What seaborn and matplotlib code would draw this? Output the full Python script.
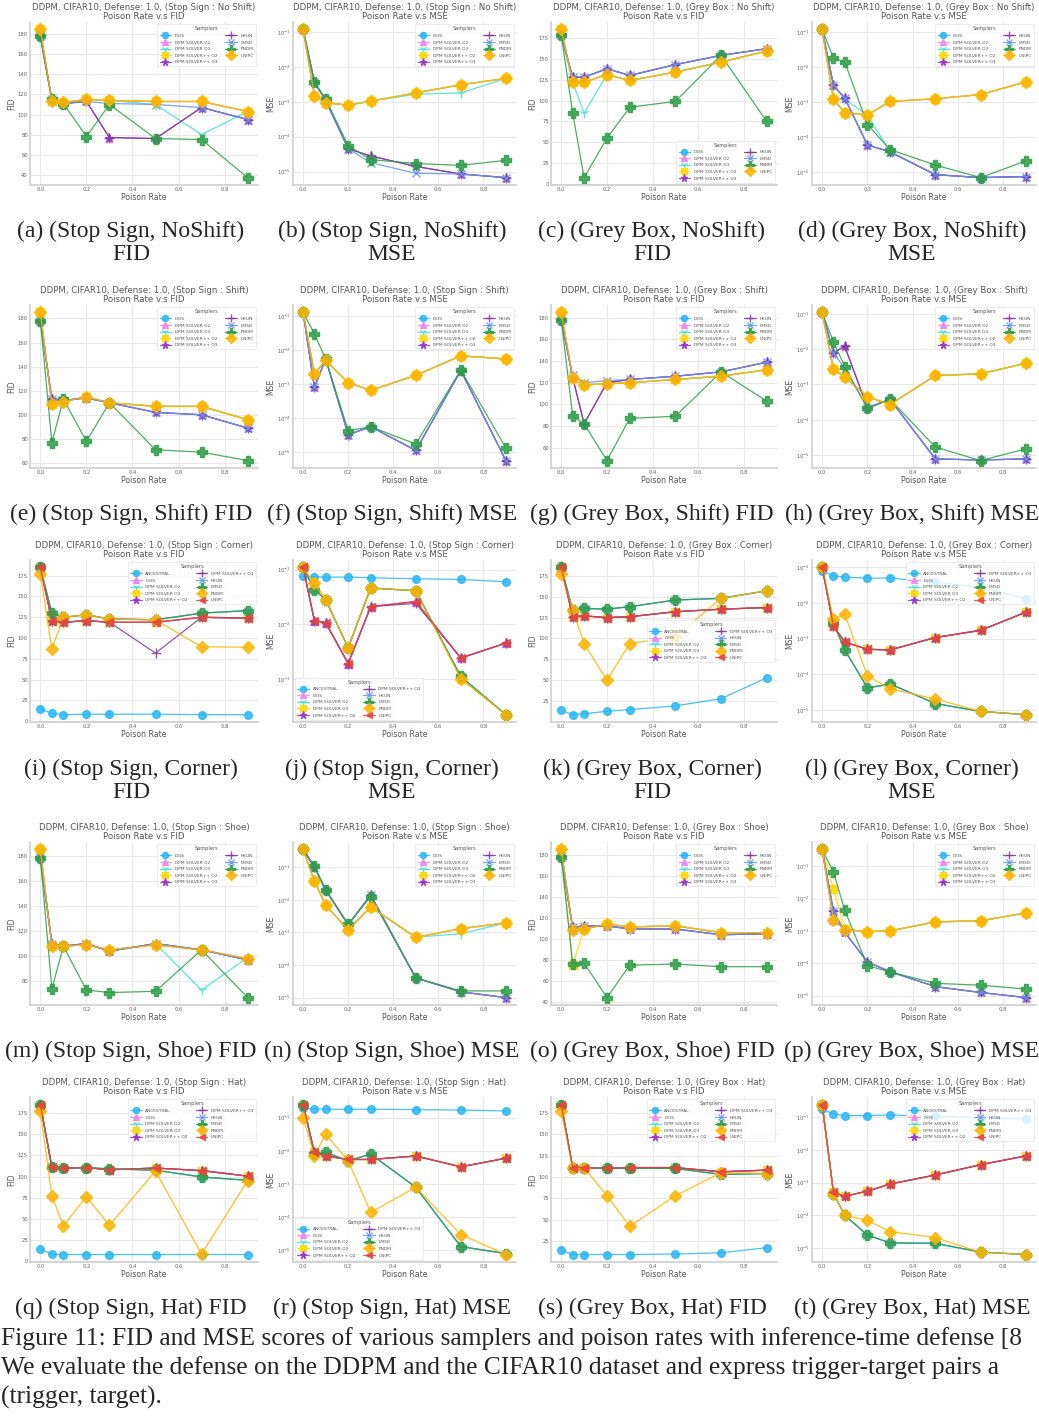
import numpy as np
import pandas as pd
import seaborn as sns
import matplotlib.pyplot as plt

RATES = [0.0, 0.05, 0.1, 0.2, 0.3, 0.5, 0.7, 0.9]
SAMPLERS_9 = ["DEIS", "DPM SOLVER O2", "DPM SOLVER O3", "DPM SOLVER++ O2", "DPM SOLVER++ O3",
              "HEUN", "LMSD", "PNDM", "UNIPC"]
SAMPLERS_10 = ["ANCESTRAL"] + SAMPLERS_9

# (a) Stop Sign / No Shift FID
a_orange = [185, 113, 112, 115, 114, 113, 113, 103]
a_teal = [178, 113, 112, 115, 114, 110, 80, 103]
a_blue = [178, 115, 111, 113, 111, 110, 107, 95]
a_purple = [178, 115, 111, 113, 77, 76, 107, 95]
a_green = [178, 115, 111, 78, 110, 76, 75, 37]
# (b) Stop Sign / No Shift MSE
b_orange = [0.12, 1.5e-3, 9.5e-4, 8e-4, 1.05e-3, 1.8e-3, 3.1e-3, 4.7e-3]
b_teal = [0.12, 1.5e-3, 9.5e-4, 8e-4, 1.05e-3, 1.65e-3, 1.8e-3, 4.7e-3]
b_blue = [0.12, 3.7e-3, 1.1e-3, 4.5e-5, 1.8e-5, 8.9e-6, 8.5e-6, 6.7e-6]
b_purple = [0.12, 3.7e-3, 1.1e-3, 4.5e-5, 2.8e-5, 1.4e-5, 8.5e-6, 6.7e-6]
b_green = [0.12, 3.7e-3, 1.2e-3, 5.5e-5, 2.2e-5, 1.7e-5, 1.5e-5, 2.1e-5]
# (c) Grey Box / No Shift FID
c_orange = [185, 122, 122, 131, 124, 134, 146, 159]
c_teal = [178, 122, 85, 131, 124, 134, 146, 159]
c_blue = [178, 128, 128, 138, 130, 143, 154, 162]
c_green = [178, 85, 8, 55, 92, 99, 154, 75]
# (d) Grey Box / No Shift MSE
d_orange = [0.12, 1.2e-3, 5e-4, 4.3e-4, 1.05e-3, 1.25e-3, 1.65e-3, 3.8e-3]
d_teal = [0.12, 1.2e-3, 1.2e-3, 4.3e-4, 3.8e-5, 8.5e-6, 7e-6, 7.5e-6]
d_blue = [0.12, 3e-3, 1.3e-3, 6e-5, 3.8e-5, 8.5e-6, 7e-6, 7.5e-6]
d_green = [0.12, 1.8e-2, 1.4e-2, 2.3e-4, 4.4e-5, 1.6e-5, 7e-6, 2.1e-5]
# (e) Stop Sign / Shift FID
e_orange = [185, 109, 111, 115, 110, 107, 107, 96]
e_blue = [178, 113, 112, 114, 110, 102, 100, 89]
e_green = [178, 77, 113, 78, 110, 71, 69, 62]
# (f) Stop Sign / Shift MSE
f_orange = [0.13, 2e-3, 5e-3, 1.1e-3, 6.5e-4, 1.8e-3, 6.8e-3, 5.5e-3]
f_blue = [0.13, 8e-4, 5.5e-3, 3.2e-5, 5.5e-5, 1.1e-5, 2.5e-3, 5.5e-6]
f_green = [0.13, 3e-2, 5.5e-3, 4.2e-5, 5.5e-5, 1.7e-5, 2.6e-3, 1.3e-5]
# (g) Grey Box / Shift FID
g_orange = [185, 124, 118, 119, 120, 123, 126, 132]
g_blue = [178, 127, 120, 122, 123, 126, 130, 139]
g_purple = [178, 125, 82, 120, 123, 126, 130, 139]
g_green = [178, 89, 82, 48, 87, 89, 130, 103]
# (h) Grey Box / Shift MSE
h_orange = [0.11, 2.7e-3, 1.6e-3, 4.5e-4, 2.7e-4, 1.8e-3, 2e-3, 4e-3]
h_blue = [0.11, 8e-3, 2.8e-3, 2.2e-4, 3.8e-4, 7.8e-6, 7.3e-6, 7.8e-6]
h_purple = [0.11, 8e-3, 1.2e-2, 2.2e-4, 3.8e-4, 7.8e-6, 7.3e-6, 7.8e-6]
h_green = [0.11, 1.6e-2, 3.2e-3, 2.1e-4, 3.8e-4, 1.7e-5, 7e-6, 1.5e-5]
# (i) Stop Sign / Corner FID
i_cyan = [14.5, 9.5, 8, 8.5, 8.5, 8.5, 8, 8]
i_red = [185, 121, 119, 121, 119, 119, 125, 124]
i_purple = [185, 121, 119, 121, 119, 82, 125, 124]
i_green = [185, 130, 125, 128, 123, 122, 130, 133]
i_orange = [177, 87, 125, 128, 123, 122, 89.5, 89]
# (j) Stop Sign / Corner MSE
j_cyan = [0.076, 0.074, 0.073, 0.073, 0.071, 0.068, 0.066, 0.06]
j_red = [0.11, 1.16e-2, 1.07e-2, 1.9e-3, 2.1e-2, 2.6e-2, 2.4e-3, 4.5e-3]
j_purple = [0.11, 1.16e-2, 1.07e-2, 1.9e-3, 2.1e-2, 2.4e-2, 2.4e-3, 4.5e-3]
j_green = [0.11, 4.3e-2, 2.8e-2, 3.7e-3, 4.6e-2, 4.1e-2, 1.1e-3, 2.2e-4]
j_orange = [0.11, 5.6e-2, 2.8e-2, 3.7e-3, 4.6e-2, 4.1e-2, 1e-3, 2.2e-4]
# (k) Grey Box / Corner FID
k_cyan = [14, 9, 10, 13, 15, 19.5, 28, 53]
k_red = [185, 126, 127, 125, 126, 132, 135, 137]
k_green = [185, 134, 136, 135, 138, 146, 148, 157]
k_orange = [177, 134, 94, 50, 94, 102, 148, 157]
# (l) Grey Box / Corner MSE
l_cyan = [0.079, 0.058, 0.053, 0.05, 0.05, 0.038, 0.028, 0.013]
l_red = [0.1, 2.2e-3, 8e-4, 5e-4, 4.8e-4, 1.07e-3, 1.7e-3, 5.5e-3]
l_green = [0.1, 2.7e-3, 4.8e-4, 4.1e-5, 5.3e-5, 1.5e-5, 9e-6, 7.3e-6]
l_orange = [0.1, 3.5e-3, 4.8e-3, 9e-5, 3.9e-5, 2e-5, 9e-6, 7.3e-6]
# (m) Stop Sign / Shoe FID
m_orange = [185, 108, 108, 109, 105, 109, 105, 98]
m_teal = [178, 110, 108, 110, 104, 110, 73, 99]
m_blue = [178, 110, 108, 110, 104, 110, 105, 97]
m_green = [178, 74, 108, 73, 71, 72, 105, 67]
# (n) Stop Sign / Shoe MSE
n_orange = [0.35, 3.8e-2, 6.8e-3, 1.2e-3, 6e-3, 7e-4, 1.3e-3, 1.95e-3]
n_teal = [0.35, 3.8e-2, 6.8e-3, 1.2e-3, 6e-3, 7.2e-4, 9e-4, 1.95e-3]
n_blue = [0.35, 0.1, 2e-2, 1.7e-3, 1.4e-2, 4e-5, 1.5e-5, 1e-5]
n_green = [0.35, 0.11, 2e-2, 1.8e-3, 1.25e-2, 4e-5, 1.6e-5, 1.6e-5]
# (o) Grey Box / Shoe FID
o_orange = [185.5, 109, 109.5, 114, 111.5, 112.5, 106, 106]
o_dpp2 = [185.5, 75, 109.5, 114, 111.5, 112.5, 106, 106]
o_blue = [178, 111, 112.5, 112.5, 109.5, 109.5, 104, 105]
o_green = [178, 76, 77, 44, 75, 76, 73.5, 73.5]
# (p) Grey Box / Shoe MSE
p_orange = [0.33, 2.2e-3, 1.1e-3, 9.5e-4, 1e-3, 1.9e-3, 2.05e-3, 3.6e-3]
p_dpp2 = [0.33, 2e-2, 1.15e-3, 9.5e-4, 1e-3, 1.9e-3, 2.05e-3, 3.6e-3]
p_blue = [0.33, 4e-3, 9e-4, 1.1e-4, 5.5e-5, 1.9e-5, 1.25e-5, 8.7e-6]
p_green = [0.33, 6.5e-2, 4.3e-3, 8.5e-5, 5.4e-5, 2.4e-5, 2.1e-5, 1.6e-5]
# (q) Stop Sign / Hat FID
q_cyan = [14.5, 8.5, 8, 8, 8, 8, 8, 8]
q_red = [185, 111, 110, 110.5, 108, 110, 107, 100.5]
q_green = [185, 111, 110, 110.5, 109, 107.5, 99.5, 95.5]
q_orange = [177, 77, 42, 76, 42.5, 106.5, 8.5, 95]
# (r) Stop Sign / Hat MSE
r_cyan = [0.19, 0.185, 0.18, 0.18, 0.18, 0.175, 0.17, 0.16]
r_red = [0.25, 9e-3, 7e-3, 5.5e-3, 5.5e-3, 7e-3, 3.3e-3, 6e-3]
r_green = [0.25, 8e-3, 9e-3, 5e-3, 8e-3, 8e-4, 1.3e-5, 8e-6]
r_orange = [0.1, 7e-3, 3.2e-2, 5e-3, 1.4e-4, 8e-4, 3e-5, 7.5e-6]
# (s) Grey Box / Hat FID
s_cyan = [14, 9, 9, 9, 9, 9.5, 11, 17]
s_red = [185, 111, 111, 110, 111, 111, 106, 108]
s_green = [185, 111, 111, 110, 110, 110, 103, 104]
s_orange = [177, 110, 111, 78, 42, 78, 105, 104]
# (t) Grey Box / Hat MSE
t_cyan = [0.17, 0.125, 0.11, 0.11, 0.115, 0.105, 0.095, 0.085]
t_red = [0.24, 5e-4, 3.8e-4, 5.5e-4, 9e-4, 1.7e-3, 3.5e-3, 6.5e-3]
t_green = [0.24, 4.6e-4, 1e-4, 2.5e-5, 1.45e-5, 1.4e-5, 7.6e-6, 6.4e-6]
t_orange = [0.24, 4.6e-4, 1e-4, 7e-5, 3.2e-5, 2.1e-5, 7.5e-6, 6.4e-6]

COLORS = ["#29b6f6", "#ee82ee", "#40e0d0", "#ffd700", "#9932cc",
          "#7d3c98", "#6495ed", "#2e9e48", "#ffb400", "#e8453c"]
MARKERS = ["o", "^", "1", "s", "*", "+", "x", "P", "D", "<"]
MSIZE = [5.5, 5.5, 6.5, 5.5, 6.5, 6.5, 5.5, 7, 6, 5.5]


def nine(orange, teal, blue, purple, green, dpp2=None):
    dpp2 = orange if dpp2 is None else dpp2
    return [orange, orange, teal, dpp2, purple, purple, blue, green, orange]


def ten(cyan, red, purple, green, orange, dpm3=None):
    dpm3 = red if dpm3 is None else dpm3
    return [cyan, red, green, dpm3, red, purple, green, green, orange, red]


panels = [
    ("Stop Sign : No Shift", "FID", nine(a_orange, a_teal, a_blue, a_purple, a_green), "upper right", "(a) (Stop Sign, NoShift)\nFID"),
    ("Stop Sign : No Shift", "MSE", nine(b_orange, b_teal, b_blue, b_purple, b_green), "upper right", "(b) (Stop Sign, NoShift)\nMSE"),
    ("Grey Box : No Shift", "FID", nine(c_orange, c_teal, c_blue, c_blue, c_green), "lower right", "(c) (Grey Box, NoShift)\nFID"),
    ("Grey Box : No Shift", "MSE", nine(d_orange, d_teal, d_blue, d_blue, d_green), "upper right", "(d) (Grey Box, NoShift)\nMSE"),
    ("Stop Sign : Shift", "FID", nine(e_orange, e_orange, e_blue, e_blue, e_green), "upper right", "(e) (Stop Sign, Shift) FID"),
    ("Stop Sign : Shift", "MSE", nine(f_orange, f_orange, f_blue, f_blue, f_green), "upper right", "(f) (Stop Sign, Shift) MSE"),
    ("Grey Box : Shift", "FID", nine(g_orange, g_orange, g_blue, g_purple, g_green), "upper right", "(g) (Grey Box, Shift) FID"),
    ("Grey Box : Shift", "MSE", nine(h_orange, h_orange, h_blue, h_purple, h_green), "upper right", "(h) (Grey Box, Shift) MSE"),
    ("Stop Sign : Corner", "FID", ten(i_cyan, i_red, i_purple, i_green, i_orange), "upper right", "(i) (Stop Sign, Corner)\nFID"),
    ("Stop Sign : Corner", "MSE", ten(j_cyan, j_red, j_purple, j_green, j_orange, j_orange), "lower left", "(j) (Stop Sign, Corner)\nMSE"),
    ("Grey Box : Corner", "FID", ten(k_cyan, k_red, k_red, k_green, k_orange), "center right", "(k) (Grey Box, Corner)\nFID"),
    ("Grey Box : Corner", "MSE", ten(l_cyan, l_red, l_red, l_green, l_orange), "upper right", "(l) (Grey Box, Corner)\nMSE"),
    ("Stop Sign : Shoe", "FID", nine(m_orange, m_teal, m_blue, m_blue, m_green), "upper right", "(m) (Stop Sign, Shoe) FID"),
    ("Stop Sign : Shoe", "MSE", nine(n_orange, n_teal, n_blue, n_blue, n_green), "upper right", "(n) (Stop Sign, Shoe) MSE"),
    ("Grey Box : Shoe", "FID", nine(o_orange, o_orange, o_blue, o_blue, o_green, o_dpp2), "upper right", "(o) (Grey Box, Shoe) FID"),
    ("Grey Box : Shoe", "MSE", nine(p_orange, p_orange, p_blue, p_blue, p_green, p_dpp2), "upper right", "(p) (Grey Box, Shoe) MSE"),
    ("Stop Sign : Hat", "FID", ten(q_cyan, q_red, q_red, q_green, q_orange), "upper right", "(q) (Stop Sign, Hat) FID"),
    ("Stop Sign : Hat", "MSE", ten(r_cyan, r_red, r_red, r_green, r_orange), "lower left", "(r) (Stop Sign, Hat) MSE"),
    ("Grey Box : Hat", "FID", ten(s_cyan, s_red, s_red, s_green, s_orange), "upper right", "(s) (Grey Box, Hat) FID"),
    ("Grey Box : Hat", "MSE", ten(t_cyan, t_red, t_red, t_green, t_orange), "upper right", "(t) (Grey Box, Hat) MSE"),
]

W, H = 1039, 1416
COL_X = [(30, 258), (293, 516), (551, 777), (812, 1036)]
ROW_Y = [(22, 185), (305, 468), (560, 722), (842, 1005), (1097, 1262)]
CAP_Y = [221, 504, 759, 1041, 1298]
CAP_X = [131, 392, 652, 912]

sns.set_theme(style="whitegrid", rc={"grid.color": "#e8e8e8", "axes.edgecolor": "#d0d0d0",
                                     "grid.linewidth": 0.8})
plt.rcParams["font.family"] = ["DejaVu Sans"]

fig = plt.figure(figsize=(W / 100, H / 100), dpi=100)

for idx, (pair, metric, series, loc, caption) in enumerate(panels):
    row, col = divmod(idx, 4)
    l, r = COL_X[col]
    t, b = ROW_Y[row]
    ax = fig.add_axes([l / W, 1 - b / H, (r - l) / W, (b - t) / H])
    names = SAMPLERS_9 if len(series) == 9 else SAMPLERS_10
    for i, (name, vals) in enumerate(zip(names, series)):
        sns.lineplot(x=RATES, y=vals, ax=ax, estimator=None, color=COLORS[i],
                     marker=MARKERS[i], markersize=MSIZE[i], mec=COLORS[i], mew=1.0,
                     linewidth=0.9, alpha=0.85, label=name)
    if metric == "MSE":
        ax.set_yscale("log")
    ax.set_xticks([0.0, 0.2, 0.4, 0.6, 0.8])
    ax.tick_params(labelsize=3.8, colors="#666666", pad=1.5, length=0)
    ax.set_xlabel("Poison Rate", fontsize=5.6, color="#555555", labelpad=1)
    ax.set_ylabel(metric, fontsize=5.6, color="#555555", labelpad=1)
    ax.set_title(f"DDPM, CIFAR10, Defense: 1.0, ({pair})\nPoison Rate v.s {metric}",
                 fontsize=6.2, color="#555555", pad=2, linespacing=1.1)
    sns.despine(ax=ax)
    leg = ax.legend(title="Samplers", ncol=2, loc=loc, fontsize=3.2, title_fontsize=3.6,
                    frameon=True, handlelength=2.6, columnspacing=1.8, labelspacing=0.55,
                    borderpad=0.5, markerscale=0.8)
    leg.get_frame().set_linewidth(0.5)
    leg.get_frame().set_edgecolor("#dddddd")
    for txt in leg.get_texts():
        txt.set_color("#555555")
    leg.get_title().set_color("#555555")

    fig.text(CAP_X[col] / W, 1 - CAP_Y[row] / H, caption, ha="center", va="top",
             fontsize=17, family="Liberation Serif", linespacing=1.12)

cap_lines = [
    "Figure 11: FID and MSE scores of various samplers and poison rates with inference-time defense [8",
    "We evaluate the defense on the DDPM and the CIFAR10 dataset and express trigger-target pairs a",
    "(trigger, target).",
]
for k, line in enumerate(cap_lines):
    fig.text(1 / W, 1 - (1339 + 29 * k) / H, line, ha="left", va="center",
             fontsize=18.4, family="Liberation Serif")

fig.savefig("out.png", dpi=100)
